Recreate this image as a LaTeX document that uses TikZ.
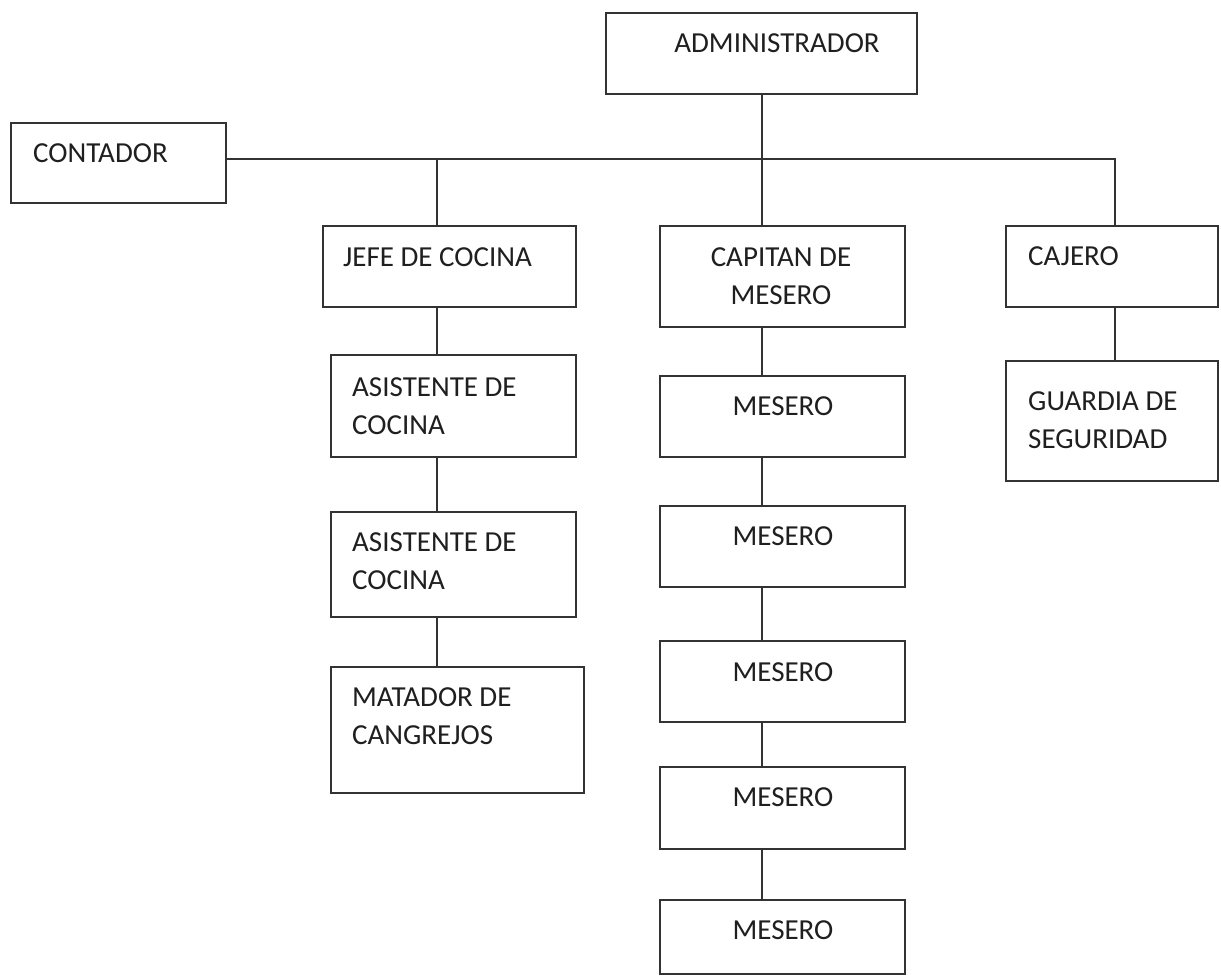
\documentclass[tikz,border=0pt]{standalone}
\usepackage{fontspec}
\setmainfont{Carlito}
\begin{document}
\begin{tikzpicture}[x=1pt,y=-1pt,
  box/.style={draw=black!80, line width=1.4pt, inner sep=0pt, outer sep=0pt, anchor=north west, fill=white},
  txt/.style={inner sep=0pt, font=\fontsize{29}{38}\selectfont, text=black!88},
  tl/.style={txt, anchor=north west, align=left},
  tc/.style={txt, anchor=north, align=center},
  conn/.style={draw=black!80, line width=1.4pt}]
\useasboundingbox (0,0) rectangle (1221,976);
% coordinates for trunks
\coordinate (bus) at (0,159);
\coordinate (jx) at (437,0);
\coordinate (mx) at (762,0);
\coordinate (cx) at (1115,0);
% boxes
\node[box, minimum width=311pt, minimum height=81pt] (adm) at (606,13) {};
\node[box, minimum width=215pt, minimum height=80pt] (cont) at (11,123) {};
\node[box, minimum width=253pt, minimum height=81pt] (jefe) at (323,226) {};
\node[box, minimum width=245pt, minimum height=102pt] (as1) at (331,355) {};
\node[box, minimum width=245pt, minimum height=105pt] (as2) at (331,512) {};
\node[box, minimum width=253pt, minimum height=126pt] (mat) at (331,667) {};
\node[box, minimum width=245pt, minimum height=101pt] (cap) at (660,226) {};
\node[box, minimum width=245pt, minimum height=81pt] (m1) at (660,376) {};
\node[box, minimum width=245pt, minimum height=81pt] (m2) at (660,506) {};
\node[box, minimum width=245pt, minimum height=81pt] (m3) at (660,641) {};
\node[box, minimum width=245pt, minimum height=82pt] (m4) at (660,767) {};
\node[box, minimum width=245pt, minimum height=74pt] (m5) at (660,900) {};
\node[box, minimum width=212pt, minimum height=81pt] (caj) at (1006,226) {};
\node[box, minimum width=212pt, minimum height=120pt] (gua) at (1006,361) {};
% texts
\node[tc] (tadm) at (777,33) {ADMINISTRADOR};
\node[tl] (tcont) at (33,143) {CONTADOR};
\node[tl] (tjefe) at (343,247) {JEFE DE COCINA};
\node[tl] (tas1) at (352,377) {ASISTENTE DE\\COCINA};
\node[tl] (tas2) at (352,532) {ASISTENTE DE\\COCINA};
\node[tl] (tmat) at (352,687) {MATADOR DE\\CANGREJOS};
\node[tc] (tcap) at (781,247) {CAPITAN DE\\MESERO};
\node[tc] (tm1) at (783,396) {MESERO};
\node[tc] (tm2) at (783,526) {MESERO};
\node[tc] (tm3) at (783,662) {MESERO};
\node[tc] (tm4) at (783,787) {MESERO};
\node[tc] (tm5) at (783,920) {MESERO};
\node[tl] (tcaj) at (1028,246) {CAJERO};
\node[tl] (tgua) at (1028,391) {GUARDIA DE\\SEGURIDAD};
% connectors
\draw[conn] (mx |- adm.south) -- (mx |- cap.north);
\draw[conn] (cont.east |- bus) -- (cx |- bus) -- (cx |- caj.north);
\draw[conn] (jx |- bus) -- (jx |- jefe.north);
\draw[conn] (jx |- jefe.south) -- (jx |- as1.north);
\draw[conn] (jx |- as1.south) -- (jx |- as2.north);
\draw[conn] (jx |- as2.south) -- (jx |- mat.north);
\draw[conn] (mx |- cap.south) -- (mx |- m1.north);
\draw[conn] (mx |- m1.south) -- (mx |- m2.north);
\draw[conn] (mx |- m2.south) -- (mx |- m3.north);
\draw[conn] (mx |- m3.south) -- (mx |- m4.north);
\draw[conn] (mx |- m4.south) -- (mx |- m5.north);
\draw[conn] (cx |- caj.south) -- (cx |- gua.north);
\end{tikzpicture}
\end{document}
